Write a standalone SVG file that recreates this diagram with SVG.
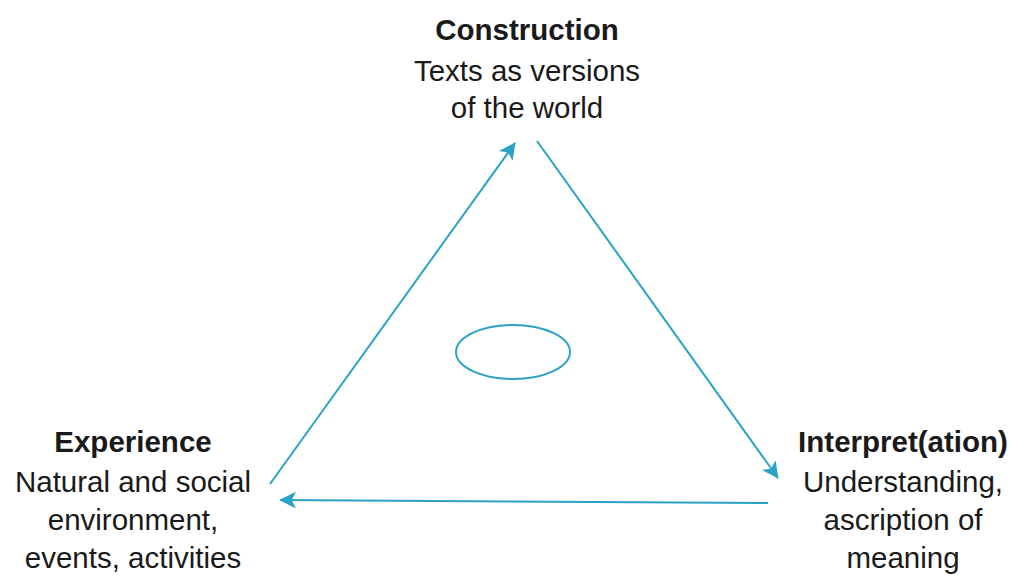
<svg xmlns="http://www.w3.org/2000/svg" width="1011" height="576" viewBox="0 0 1011 576">
<defs>
<style>
.t{font-family:"Liberation Sans",Arial,sans-serif;font-size:29.5px;fill:#1a1a1a;text-anchor:middle}
.b{font-weight:bold}
.c{stroke:#2aa3c4;stroke-width:2;fill:none}
</style>
<marker id="ah" viewBox="0 0 10 10" refX="9" refY="5" markerWidth="8" markerHeight="8" markerUnits="userSpaceOnUse" orient="auto" style="overflow:visible">
<path d="M0,0 L10,5 L0,10 L2.5,5 z" fill="#2aa3c4" transform="scale(2.1) translate(-5.2,-2.6)"/>
</marker>
</defs>
<rect width="1011" height="576" fill="#ffffff"/>
<g id="construction">
<text class="t b" x="527" y="40">Construction</text>
<text class="t" x="527" y="81">Texts as versions</text>
<text class="t" x="527" y="118">of the world</text>
</g>
<g id="experience">
<text class="t b" x="133" y="452">Experience</text>
<text class="t" x="133" y="492">Natural and social</text>
<text class="t" x="133" y="530">environment,</text>
<text class="t" x="133" y="568">events, activities</text>
</g>
<g id="interpretation">
<text class="t b" x="903" y="452">Interpret(ation)</text>
<text class="t" x="903" y="492">Understanding,</text>
<text class="t" x="903" y="530">ascription of</text>
<text class="t" x="903" y="568">meaning</text>
</g>
<g id="center">
<ellipse class="c" cx="513" cy="352" rx="57" ry="27"/>
</g>
<g id="connectors">
<path class="c" d="M270,484 L515,143" marker-end="url(#ah)"/>
<path class="c" d="M537,141 L778,478" marker-end="url(#ah)"/>
<path class="c" d="M768,503 L280,500" marker-end="url(#ah)"/>
</g>
</svg>
